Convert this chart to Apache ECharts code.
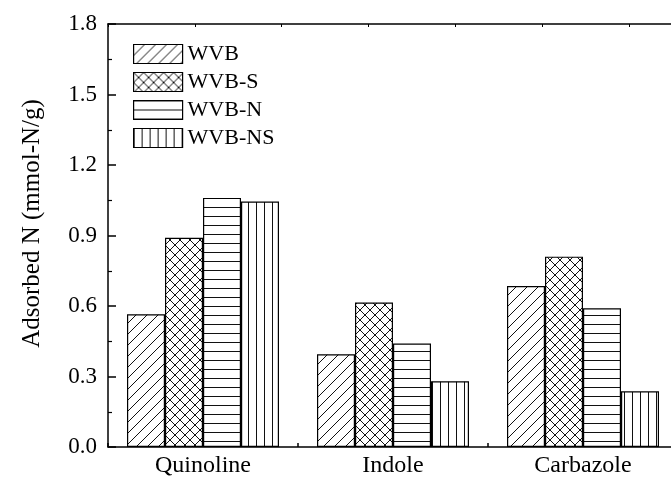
<!DOCTYPE html>
<html>
<head>
<meta charset="utf-8">
<script src="https://cdn.jsdelivr.net/npm/echarts@6/dist/echarts.min.js"></script>
<style>
html,body{margin:0;padding:0;background:#fff;}
#chart{width:671px;height:477px;}
</style>
</head>
<body>
<div id="chart"></div>
<script>
// Data
const categories = ['Quinoline', 'Indole', 'Carbazole'];
const seriesNames = ['WVB', 'WVB-S', 'WVB-N', 'WVB-NS'];
const wvb   = [0.565, 0.395, 0.685];
const wvbS  = [0.89, 0.615, 0.81];
const wvbN  = [1.06, 0.44, 0.59];
const wvbNS = [1.045, 0.28, 0.237];
const yTicks = ['0.0', '0.3', '0.6', '0.9', '1.2', '1.5', '1.8'];

function makePattern(kind) {
  const c = document.createElement('canvas');
  const ctx = c.getContext('2d');
  let w = 10, h = 10;
  if (kind === 'diag') { w = 11; h = 11; }
  if (kind === 'cross') { w = 10; h = 10; }
  if (kind === 'hor') { w = 10; h = 9; }
  if (kind === 'ver') { w = 8; h = 10; }
  c.width = w; c.height = h;
  ctx.fillStyle = '#fff';
  ctx.fillRect(0, 0, w, h);
  ctx.strokeStyle = '#111';
  ctx.lineWidth = 1;
  ctx.beginPath();
  if (kind === 'diag') {
    ctx.moveTo(-1, h + 1); ctx.lineTo(w + 1, -1);
    ctx.moveTo(-1, 1); ctx.lineTo(1, -1);
    ctx.moveTo(w - 1, h + 1); ctx.lineTo(w + 1, h - 1);
  } else if (kind === 'cross') {
    ctx.moveTo(-1, h + 1); ctx.lineTo(w + 1, -1);
    ctx.moveTo(-1, -1); ctx.lineTo(w + 1, h + 1);
  } else if (kind === 'hor') {
    ctx.moveTo(0, 0.5); ctx.lineTo(w, 0.5);
  } else if (kind === 'ver') {
    ctx.moveTo(0.5, 0); ctx.lineTo(0.5, h);
  }
  ctx.stroke();
  return { image: c, repeat: 'repeat' };
}

const patterns = [makePattern('diag'), makePattern('cross'), makePattern('hor'), makePattern('ver')];
const dataSets = [wvb, wvbS, wvbN, wvbNS];

const font = '"Liberation Serif", "Times New Roman", serif';
const chart = echarts.init(document.getElementById('chart'), null, { renderer: 'canvas' });

const option = {
  animation: false,
  backgroundColor: '#fff',
  textStyle: { fontFamily: font, color: '#000' },
  grid: { left: 108, top: 24, height: 423, width: 570, containLabel: false, outerBoundsMode: 'none' },
  legend: {
    orient: 'vertical',
    left: 133, top: 43,
    padding: 0,
    itemWidth: 49, itemHeight: 19, itemGap: 6,
    icon: 'rect',
    textStyle: { fontFamily: font, fontSize: 22, lineHeight: 19, color: '#000' },
    itemStyle: { borderColor: '#000', borderWidth: 1.2 },
    data: seriesNames
  },
  xAxis: [{
    type: 'category',
    data: categories,
    position: 'bottom',
    axisLine: { lineStyle: { color: '#000', width: 1.5 } },
    axisTick: { show: true, inside: true, length: 4, lineStyle: { color: '#000', width: 1.5 } },
    axisLabel: { fontFamily: font, fontSize: 24, color: '#000', margin: 7 },
    splitLine: { show: false }
  }, {
    type: 'value',
    position: 'top',
    min: 0, max: 6.567, interval: 1,
    axisLine: { show: true, onZero: false, lineStyle: { color: '#000', width: 1.5 } },
    axisTick: { show: true, inside: true, length: 3, lineStyle: { color: '#000', width: 1 } },
    axisLabel: { show: false },
    splitLine: { show: false }
  }],
  yAxis: {
    type: 'value',
    min: 0, max: 1.8, interval: 0.3,
    name: 'Adsorbed N (mmol-N/g)',
    nameLocation: 'middle',
    nameGap: 63,
    nameTextStyle: { fontFamily: font, fontSize: 25, color: '#000', padding: [0, 0, 0, 24] },
    axisLine: { show: true, lineStyle: { color: '#000', width: 1.5 } },
    axisTick: { show: true, inside: true, length: 8, lineStyle: { color: '#000', width: 1.5 } },
    minorTick: { show: true, splitNumber: 2, length: 4, lineStyle: { color: '#000', width: 1.2 } },
    axisLabel: {
      fontFamily: font, fontSize: 23, color: '#000', margin: 11,
      formatter: function (v) { return yTicks[Math.round(v / 0.3)]; }
    },
    splitLine: { show: false }
  },
  series: seriesNames.map(function (name, i) {
    return {
      name: name,
      type: 'bar',
      data: dataSets[i],
      xAxisIndex: 0,
      barGap: '0%',
      barCategoryGap: '20%',
      itemStyle: { color: patterns[i], borderColor: '#000', borderWidth: 1.2 },
      emphasis: { disabled: true }
    };
  })
};
chart.setOption(option);
</script>
</body>
</html>
